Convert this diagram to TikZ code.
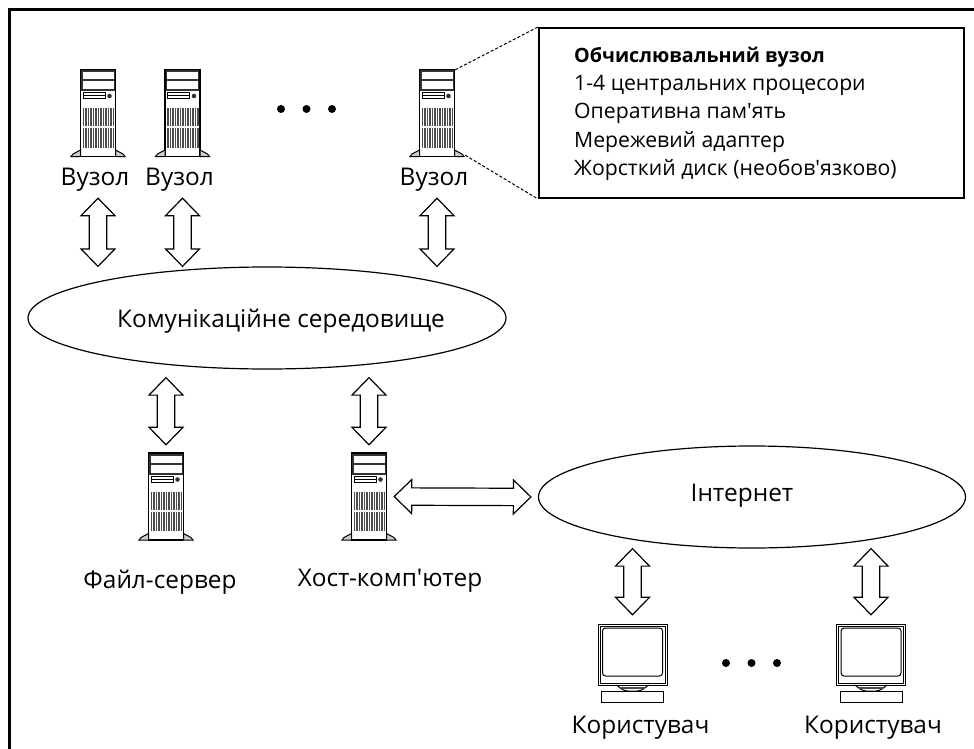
\documentclass[tikz,border=0pt]{standalone}
\usepackage{fontspec}
\setmainfont{Open Sans}[Ligatures=TeXOff]
\usetikzlibrary{calc, shapes.geometric}
\newcommand{\servericon}{
    \fill[black!80] (-17.5,-43.5) rectangle (17.5,-21.5);
    \fill[white] (-15.5,-40.5) rectangle (15.5,-33.5);
    \fill[white] (-15.5,-31.5) rectangle (15.5,-23.5);
    \draw[line width=1.6pt] (-17.5,-43.5) rectangle (17.5,43.5);
    \draw[line width=1pt] (-15,-20.5) rectangle (7,-14);
    \draw[line width=.6pt] (-15,-17.5) -- (7,-17.5);
    \fill[black!80] (11.5,-17) circle (2.3);
    \foreach \gx in {-14.5,-12,...,15.5} {
        \draw[black!70, line width=1.6pt] (\gx,-4.5) -- (\gx,13.5);
        \draw[black!70, line width=1.6pt] (\gx,15.5) -- (\gx,34.5);
    }
    \draw[line width=1pt, fill=black!20] (-17.5,37) -- (-25,41) -- (-27,43.5) -- (-17.5,43.5) -- cycle;
    \draw[line width=1pt, fill=black!20] (17.5,37) -- (25,41) -- (27,43.5) -- (17.5,43.5) -- cycle;
}
\newcommand{\pcicon}{
    \draw[line width=1pt] (-34.5,-39) rectangle (34.5,22);
    \draw[line width=.8pt] (-32.5,-37) rectangle (32.5,20);
    \draw[line width=1pt, rounded corners=3pt] (-30,-35) rectangle (30,13);
    \draw[line width=1pt] (-16,22) .. controls (-10,27) .. (-5,28) -- (5,28) .. controls (10,27) .. (16,22);
    \fill[black!70] (-12,23.5) rectangle (12,25.5);
    \draw[line width=1pt] (-31,28) rectangle (31,39);
}
\tikzset{
    every node/.style={font=\fontsize{24.4}{28}\selectfont}, % the larger labels
    server/.style={minimum width=56pt, minimum height=89pt, inner sep=0pt,
        path picture={\begin{scope}[shift={(path picture bounding box.center)}]\servericon\end{scope}}},
    pc/.style={minimum width=71pt, minimum height=80pt, inner sep=0pt,
        path picture={\begin{scope}[shift={(path picture bounding box.center)}]\pcicon\end{scope}}},
    cloud/.style={ellipse, draw, line width=1.2pt, inner sep=0pt},
    dot/.style={circle, fill=black, minimum size=8pt, inner sep=0pt},
    infobox/.style={draw, line width=2pt, minimum width=425pt, minimum height=170pt, inner sep=0pt},
    bus/.style={draw, fill=white, line width=1.2pt, miter limit=10, % hollow arrow with two heads
        to path={let \p1=(\tikztostart), \p2=(\tikztotarget),
            \n1={atan2(\y2-\y1,\x2-\x1)}, \n2={veclen(\x2-\x1,\y2-\y1)} in
            ([shift={(\p1)},rotate=\n1]0,0)
            -- ([shift={(\p1)},rotate=\n1]17.5,17)
            -- ([shift={(\p1)},rotate=\n1]17.5,8.7)
            -- ([shift={(\p1)},rotate=\n1]{\n2-17.5},8.7)
            -- ([shift={(\p1)},rotate=\n1]{\n2-17.5},17)
            -- ([shift={(\p1)},rotate=\n1]\n2,0)
            -- ([shift={(\p1)},rotate=\n1]{\n2-17.5},-17)
            -- ([shift={(\p1)},rotate=\n1]{\n2-17.5},-8.7)
            -- ([shift={(\p1)},rotate=\n1]17.5,-8.7)
            -- ([shift={(\p1)},rotate=\n1]17.5,-17)
            -- cycle}},
}
\begin{document}
\begin{tikzpicture}[x=1pt, y=-1pt]
    \useasboundingbox (0,0) rectangle (974,749);
    \draw[line width=3pt] (9,749) -- (9,10) -- (974,10);

    \node[server] (n1) at (98,113) {};
    \node[server, right of=n1, node distance=84.5pt] (n2) {};
    \node[server, right of=n2, node distance=254.5pt] (n3) {};
    \node[below of=n1, node distance=67pt, xshift=-3pt] (v1) {Вузол};
    \node[below of=n2, node distance=67pt, xshift=-3pt] (v2) {Вузол};
    \node[below of=n3, node distance=67pt, xshift=-3pt] (v3) {Вузол};
    \node[dot] (d1) at (281,109) {};
    \node[dot, right of=d1, node distance=25.5pt] (d2) {};
    \node[dot, right of=d2, node distance=25.5pt] (d3) {};

    \node[infobox] (info) at (751.5,113) {};
    \node[anchor=north west, align=left, inner sep=0pt, font=\fontsize{21.2}{28.2}\selectfont] (infotext) at (574,47)
        {{\fontsize{19.7}{28.2}\selectfont\bfseries Обчислювальний вузол}\\1-4 центральних процесори\\Оперативна пам'ять\\Мережевий адаптер\\Жорсткий диск (необов'язково)};
    \draw[dashed, dash pattern=on 3pt off 2pt, line width=1pt] ([xshift=-10pt, yshift=-1.5pt]n3.north east) -- (info.north west);
    \draw[dashed, dash pattern=on 3pt off 2pt, line width=1pt] ([yshift=2.5pt]n3.south east) -- (info.south west);

    \node[cloud, minimum width=478pt, minimum height=102pt] (net) at (267,318) {};
    \node[xshift=14pt, yshift=-3.5pt] (nettext) at (net) {Комунікаційне середовище};

    \node[server] (fs) at (166,496.5) {};
    \node[server, right of=fs, node distance=203pt] (host) {};
    \node[below of=fs, node distance=86pt, xshift=-6pt] (fslabel) {Файл-сервер};
    \node[below of=host, node distance=84pt, xshift=21pt] (hostlabel) {Хост-комп'ютер};

    \node[cloud, minimum width=427pt, minimum height=102pt] (inet) at (752,497) {};
    \node[xshift=-10pt, yshift=1.5pt] (inettext) at (inet) {Інтернет};

    \node[pc] (pc1) at (632.5,663) {};
    \node[pc, right of=pc1, node distance=238.5pt] (pc2) {};
    \node[below of=pc1, node distance=65pt, xshift=8pt] (u1) {Користувач};
    \node[below of=pc2, node distance=65pt, xshift=2pt] (u2) {Користувач};
    \node[dot] (d4) at (726,663) {};
    \node[dot, right of=d4, node distance=25.5pt] (d5) {};
    \node[dot, right of=d5, node distance=25.5pt] (d6) {};

    \draw[bus] ([yshift=-40.5pt]n1.south) to (n1 |- net.north);
    \draw[bus] ([yshift=-40.5pt]n2.south) to (n2 |- net.north);
    \draw[bus] ([yshift=-40.5pt]n3.south) to (n3 |- net.north);
    \draw[bus] ([yshift=-8pt]fs |- net.south) to ([yshift=7pt]fs.north);
    \draw[bus] ([yshift=-8pt]host |- net.south) to ([yshift=7pt]host.north);
    \draw[bus] ([xshift=-3pt]host.east) to ([xshift=-7pt]inet.west);
    \draw[bus] (pc1 |- inet.south) to ([yshift=8pt]pc1.north);
    \draw[bus] (pc2 |- inet.south) to ([yshift=8pt]pc2.north);
\end{tikzpicture}
\end{document}
